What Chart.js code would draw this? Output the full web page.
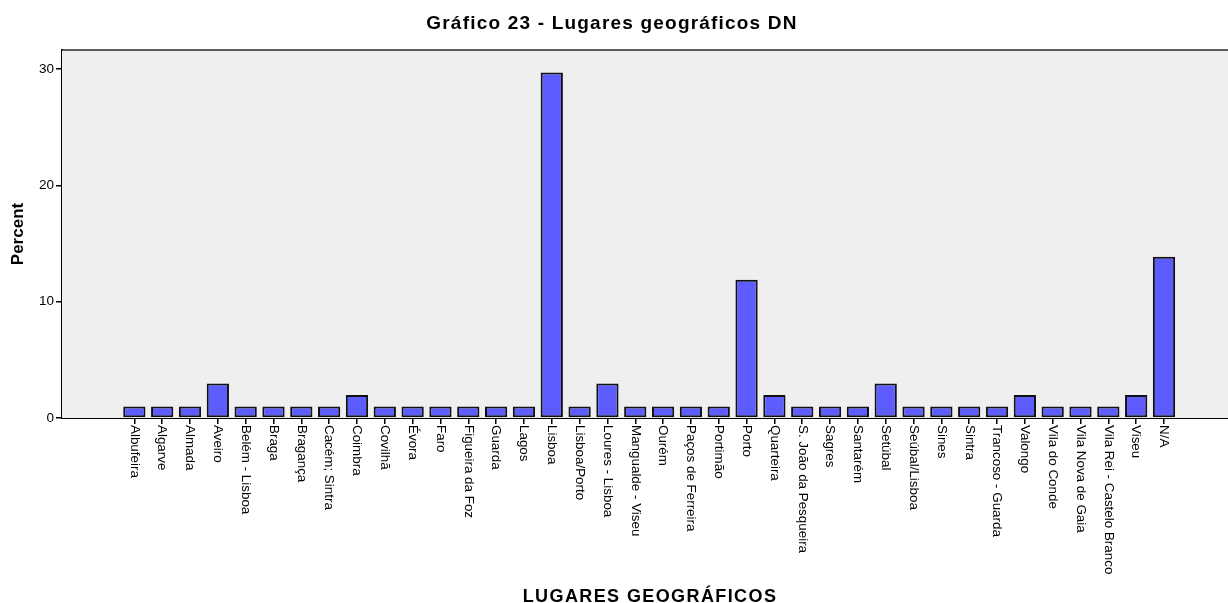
<!DOCTYPE html>
<html>
<head>
<meta charset="utf-8">
<script src="https://cdn.jsdelivr.net/npm/chart.js@4"></script>
<style>
  body { margin: 0; background: #fff; }
  canvas { display: block; }
</style>
</head>
<body>
<canvas id="lugaresChart" width="1228" height="603"></canvas>
<script>
const places = [
  "Albufeira", "Algarve", "Almada", "Aveiro", "Belém - Lisboa", "Braga", "Bragança",
  "Cacém; Sintra", "Coimbra", "Covilhã", "Évora", "Faro", "Figueira da Foz", "Guarda",
  "Lagos", "Lisboa", "Lisboa/Porto", "Loures - Lisboa", "Mangualde - Viseu", "Ourém",
  "Paços de Ferreira", "Portimão", "Porto", "Quarteira", "S. João da Pesqueira", "Sagres",
  "Santarém", "Setúbal", "Seúbal/Lisboa", "Sines", "Sintra", "Trancoso - Guarda", "Valongo",
  "Vila do Conde", "Vila Nova de Gaia", "Vila Rei - Castelo Branco", "Viseu", "N/A"
];
const percents = [
  0.99, 0.99, 0.99, 2.97, 0.99, 0.99, 0.99,
  0.99, 1.98, 0.99, 0.99, 0.99, 0.99, 0.99,
  0.99, 29.70, 0.99, 2.97, 0.99, 0.99,
  0.99, 0.99, 11.88, 1.98, 0.99, 0.99,
  0.99, 2.97, 0.99, 0.99, 0.99, 0.99, 1.98,
  0.99, 0.99, 0.99, 1.98, 13.86
];
const yTicks = [0, 10, 20, 30];

const chartTitle = "Gráfico 23 - Lugares geográficos DN";
const xTitle = "LUGARES GEOGRÁFICOS";
const yTitle = "Percent";

const FONT = "Arial, 'Liberation Sans', sans-serif";

// plot background, top frame line, rotated category labels and titles
const spssLook = {
  id: "spssLook",
  beforeDatasetsDraw(chart) {
    const { ctx, chartArea: a } = chart;
    ctx.save();
    ctx.fillStyle = "#efefef";
    ctx.fillRect(a.left, a.top, a.right - a.left, a.bottom - a.top);
    ctx.strokeStyle = "#2a2a2a";
    ctx.lineWidth = 1.5;
    ctx.beginPath();
    ctx.moveTo(a.left, a.top);
    ctx.lineTo(a.right, a.top);
    ctx.stroke();
    ctx.restore();
  },
  afterDraw(chart) {
    const { ctx } = chart;
    const x = chart.scales.x;
    ctx.save();
    ctx.fillStyle = "#000";
    ctx.font = "13.4px " + FONT;
    ctx.textAlign = "left";
    ctx.textBaseline = "middle";
    places.forEach((name, i) => {
      const px = x.getPixelForValue(i);
      ctx.save();
      ctx.translate(px, x.top + 7);
      ctx.rotate(Math.PI / 2);
      ctx.fillText(name, 0, 0);
      ctx.restore();
    });

    ctx.textAlign = "center";
    ctx.textBaseline = "alphabetic";
    ctx.font = "bold 19px " + FONT;
    ctx.letterSpacing = "1.2px";
    ctx.fillText(chartTitle, 612, 29);
    ctx.font = "bold 18px " + FONT;
    ctx.letterSpacing = "1.4px";
    ctx.fillText(xTitle, 650, 602);
    ctx.restore();
  }
};

new Chart(document.getElementById("lugaresChart"), {
  type: "bar",
  data: {
    datasets: [{
      data: percents.map((v, i) => ({ x: i, y: v })),
      backgroundColor: "#5c5cff",
      borderColor: "#111",
      borderWidth: 2,
      borderSkipped: false,
      categoryPercentage: 1,
      barPercentage: 0.8
    }]
  },
  options: {
    responsive: false,
    animation: false,
    devicePixelRatio: 1,
    layout: { padding: { top: 50, right: 0, bottom: 0, left: 0 } },
    plugins: {
      legend: { display: false },
      title: { display: false },
      tooltip: { enabled: false }
    },
    scales: {
      x: {
        type: "linear",
        offset: false,
        min: -2.6,
        max: 39.3,
        afterBuildTicks: (scale) => { scale.ticks = places.map((_, i) => ({ value: i })); },
        afterFit: (scale) => { scale.height = 185; },
        ticks: { display: false },
        grid: { offset: false, drawOnChartArea: false, drawTicks: true, tickLength: 6, color: "#000", lineWidth: 1.5 },
        border: { color: "#000", width: 2 }
      },
      y: {
        min: 0,
        max: 31.63,
        afterBuildTicks: (scale) => { scale.ticks = yTicks.map(v => ({ value: v })); },
        afterFit: (scale) => { scale.width = 62; },
        ticks: { color: "#000", font: { size: 13.5, family: FONT }, padding: 2 },
        grid: { drawOnChartArea: false, drawTicks: true, tickLength: 6, color: "#000", lineWidth: 1.5 },
        border: { color: "#000", width: 2 },
        title: {
          display: true,
          text: yTitle,
          color: "#000",
          font: { size: 17, weight: "bold", family: FONT },
          padding: { top: 8, bottom: 0 }
        }
      }
    }
  },
  plugins: [spssLook]
});
</script>
</body>
</html>
